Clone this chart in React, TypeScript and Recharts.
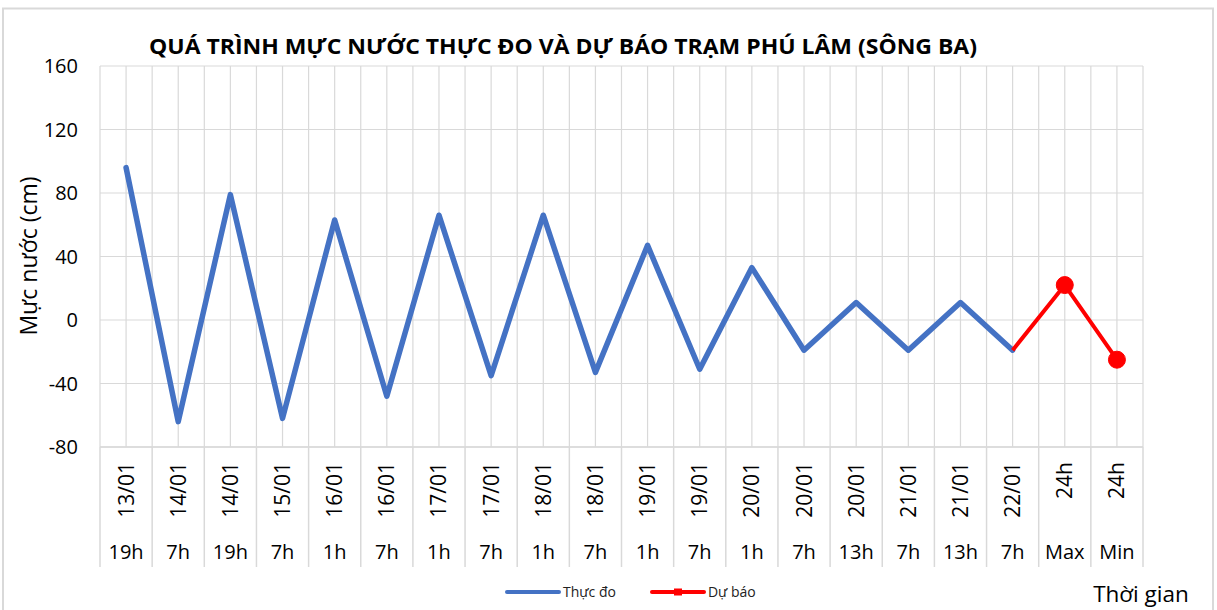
import React from 'react';
import { LineChart, Line, XAxis, YAxis, CartesianGrid, Legend } from 'recharts';

const dates = ['13/01','14/01','14/01','15/01','16/01','16/01','17/01','17/01','18/01','18/01','19/01','19/01','20/01','20/01','20/01','21/01','21/01','22/01','24h','24h'];
const hours = ['19h','7h','19h','7h','1h','7h','1h','7h','1h','7h','1h','7h','1h','7h','13h','7h','13h','7h','Max','Min'];
const observed: (number | null)[] = [96,-64,79,-62,63,-48,66,-35,66,-33,47,-31,33,-19,11,-19,11,-19,null,null];
const forecast: (number | null)[] = [null,null,null,null,null,null,null,null,null,null,null,null,null,null,null,null,null,-19,22,-25];
const yTicks = [-80,-40,0,40,80,120,160];

const data = dates.map((d, i) => ({ idx: i, date: d, hour: hours[i], obs: observed[i], fc: forecast[i] }));

const W = 1217, H = 610;
const M = { top: 66, right: 74, left: 40, bottom: 43 };
const YW = 60;
const XH = 120;
const PLOT_W = W - M.left - YW - M.right;
const STEP = PLOT_W / dates.length;
const FONT = "'Open Sans', sans-serif";
const GRID = '#D9D9D9';

const XTick = (props: any) => {
  const { x, y, payload } = props;
  const i = Number(payload.value);
  return (
    <g>
      <line x1={x - STEP / 2} x2={x - STEP / 2} y1={y} y2={y + XH} stroke={GRID} strokeWidth={1.5} />
      {i === dates.length - 1 && (
        <line x1={x + STEP / 2} x2={x + STEP / 2} y1={y} y2={y + XH} stroke={GRID} strokeWidth={1.5} />
      )}
      <text transform={`translate(${x + 7.5},${y + 15}) rotate(-90)`} textAnchor="end" fontFamily={FONT} fontSize={21} fill="#000">
        {dates[i]}
      </text>
      <text x={x} y={y + 112} textAnchor="middle" fontFamily={FONT} fontSize={20} fill="#000">
        {hours[i]}
      </text>
    </g>
  );
};

const FcDot = (props: any) => {
  const { cx, cy, index } = props;
  if (index < 18 || cy == null) return <g key={`d${index}`} />;
  return <circle key={`d${index}`} cx={cx} cy={cy} r={8.5} fill="#FF0000" stroke="#FF0000" />;
};

const LegendContent = () => (
  <div style={{ display: 'flex', alignItems: 'center', fontFamily: FONT, fontSize: 14, color: '#222', whiteSpace: 'nowrap' }}>
    <svg width={56} height={10}>
      <line x1={2} x2={54} y1={5} y2={5} stroke="#4472C4" strokeWidth={4} strokeLinecap="round" />
    </svg>
    <span style={{ marginLeft: 2, marginRight: 34 }}>Thực đo</span>
    <svg width={56} height={10}>
      <line x1={2} x2={54} y1={5} y2={5} stroke="#FF0000" strokeWidth={4} strokeLinecap="round" />
      <rect x={24} y={1.5} width={8} height={7} fill="#FF0000" />
    </svg>
    <span style={{ marginLeft: 2 }}>Dự báo</span>
  </div>
);

export default function App() {
  return (
    <div style={{ position: 'absolute', left: 0, top: 0, width: W, height: H, background: '#fff', overflow: 'hidden' }}>
      <svg width={W} height={H} style={{ position: 'absolute', left: 0, top: 0 }}>
        <rect x={3} y={8.5} width={1210} height={H + 10} fill="none" stroke={GRID} strokeWidth={2} />
        <text x={563} y={54} textAnchor="middle" fontFamily={FONT} fontWeight={700} fontSize={21} textLength={828} lengthAdjust="spacingAndGlyphs" fill="#000">
          QUÁ TRÌNH MỰC NƯỚC THỰC ĐO VÀ DỰ BÁO TRẠM PHÚ LÂM (SÔNG BA)
        </text>
        <text transform="translate(37,256) rotate(-90)" textAnchor="middle" fontFamily={FONT} fontSize={23} fill="#000">
          Mực nước (cm)
        </text>
        <text x={1141} y={602} textAnchor="middle" fontFamily={FONT} fontSize={22.5} fill="#000">
          Thời gian
        </text>
      </svg>
      <div style={{ position: 'absolute', left: 0, top: 0 }}>
        <LineChart width={W} height={H} data={data} margin={M}>
          <CartesianGrid
            stroke={GRID}
            strokeWidth={1.2}
            verticalCoordinatesGenerator={({ offset }: any) =>
              Array.from({ length: dates.length * 2 + 1 }, (_, k) => offset.left + (k * offset.width) / (dates.length * 2))
            }
          />
          <XAxis
            dataKey="idx"
            type="category"
            height={XH}
            padding={{ left: STEP / 2, right: STEP / 2 }}
            tick={<XTick />}
            tickLine={false}
            tickSize={0}
            tickMargin={0}
            interval={0}
            axisLine={{ stroke: GRID, strokeWidth: 1.5 }}
          />
          <YAxis
            width={YW}
            domain={[-80, 160]}
            ticks={yTicks}
            interval={0}
            axisLine={false}
            tickLine={false}
            tickSize={0}
            tickMargin={22}
            tick={{ fontFamily: FONT, fontSize: 20, fill: '#000' }}
          />
          <Legend
            layout="horizontal"
            verticalAlign="middle"
            align="center"
            content={<LegendContent />}
            wrapperStyle={{ position: 'absolute', left: 505, top: 582, width: 300 }}
          />
          <Line
            type="linear"
            dataKey="obs"
            stroke="#4472C4"
            strokeWidth={5.5}
            strokeLinejoin="round"
            strokeLinecap="round"
            dot={false}
            activeDot={false}
            isAnimationActive={false}
          />
          <Line
            type="linear"
            dataKey="fc"
            stroke="#FF0000"
            strokeWidth={4}
            strokeLinejoin="round"
            dot={<FcDot />}
            activeDot={false}
            isAnimationActive={false}
          />
        </LineChart>
      </div>
    </div>
  );
}
